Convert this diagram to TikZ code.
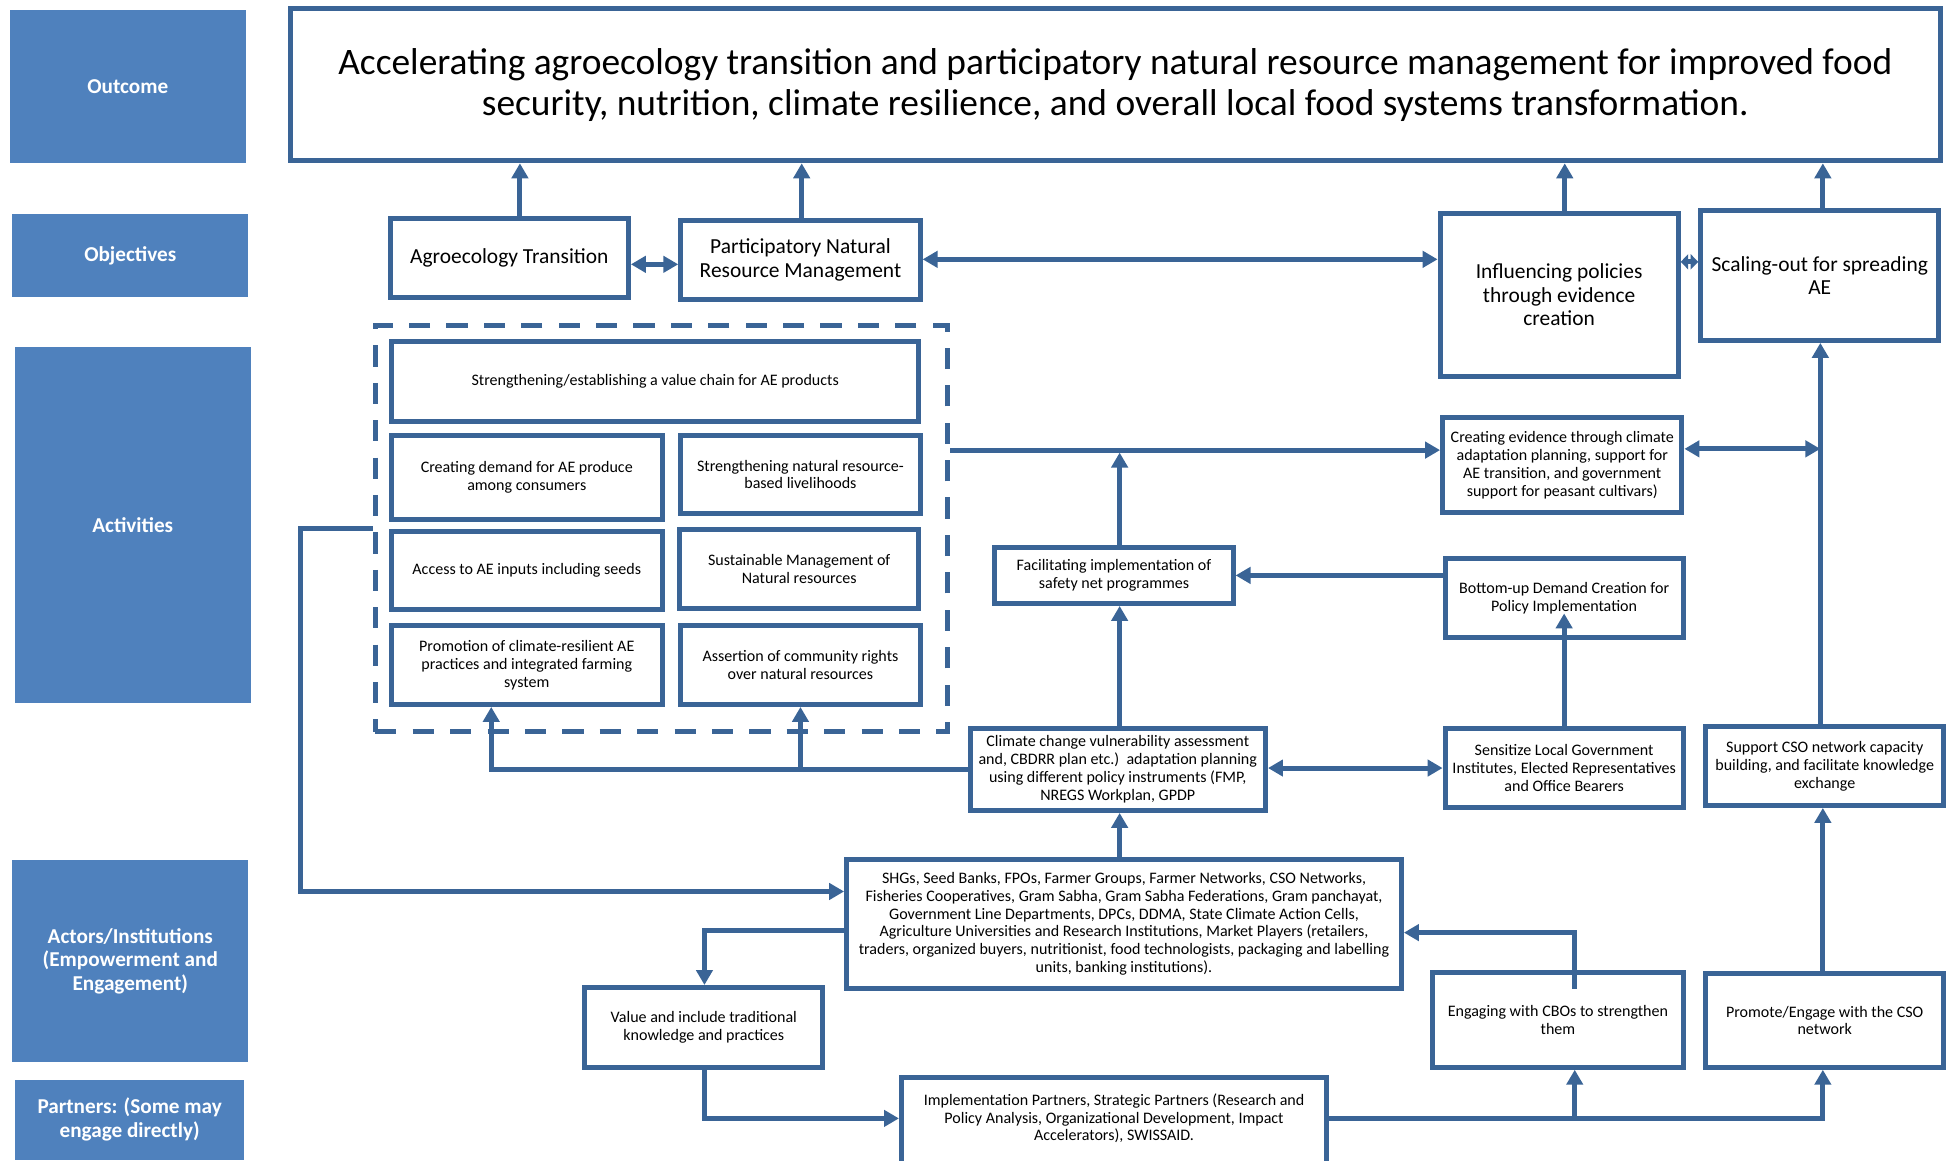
\documentclass[tikz,border=0pt]{standalone}
\usepackage{fontspec}
\setmainfont{Carlito}
\usetikzlibrary{arrows.meta}
\definecolor{bc}{HTML}{3A6496}
\definecolor{lbl}{HTML}{4F81BD}
\begin{document}
\begin{tikzpicture}[x=1pt,y=-1pt,
 spanxy/.style n args={4}{at={({(#1+#3)/2},{(#2+#4)/2})}, anchor=center, minimum width={#3pt-#1pt}, minimum height={#4pt-#2pt}},
 box/.style={draw=bc, line width=4pt, fill=white, align=center, inner sep=0pt, font=\fontsize{12.85}{14.3}\selectfont},
 midbox/.style={box, font=\fontsize{17.2}{19}\selectfont},
 lblbox/.style={fill=lbl, inner sep=0pt, align=center, text=white, font=\fontsize{17}{19}\selectfont\bfseries},
 conn/.style={draw=bc, line width=4pt, -{Triangle[length=12pt,width=13pt]}},
 dconn/.style={draw=bc, line width=4pt, {Triangle[length=12pt,width=13pt]}-{Triangle[length=12pt,width=13pt]}},
 sdconn/.style={draw=bc, line width=4pt, {Triangle[length=6pt,width=12pt]}-{Triangle[length=6pt,width=12pt]}},
]
\useasboundingbox (0,0) rectangle (1568,931);
% left labels
\node[lblbox, spanxy={8}{8}{197}{131}] (lo) {Outcome};
\node[lblbox, spanxy={10}{172}{199}{238}] (lobj) {Objectives};
\node[lblbox, spanxy={12}{278}{201}{564}] (lact) {Activities};
\node[lblbox, spanxy={10}{690}{199}{852}] (lactr) {Actors/Institutions\\(Empowerment and\\Engagement)};
\node[lblbox, spanxy={12}{866}{196}{930}] (lpart) {Partners: (Some may\\engage directly)};
% outcome
\node[box, spanxy={233}{7}{1556}{129}, font=\fontsize{30}{33}\selectfont] (outcome) {Accelerating agroecology transition and participatory natural resource management for improved food\\security, nutrition, climate resilience, and overall local food systems transformation.};
% objectives
\node[midbox, spanxy={313}{175}{504}{239}] (agro) {Agroecology Transition};
\node[midbox, spanxy={546}{177}{738}{240}] (pnrm) {Participatory Natural\\Resource Management};
\node[midbox, spanxy={1155}{171}{1346}{302}] (infl) {Influencing policies\\through evidence\\creation};
\node[midbox, spanxy={1364}{169}{1555}{273}] (scal) {Scaling-out for spreading\\AE};
% activities group
\node[draw=bc, line width=4pt, dash pattern=on 17pt off 13pt, inner sep=0pt, spanxy={301}{261}{760}{587}] (dash) {};
\node[box, spanxy={314}{274}{737}{338}] (vc) {Strengthening/establishing a value chain for AE products};
\node[box, spanxy={314}{349}{531}{417}] (dem) {Creating demand for AE produce\\among consumers};
\node[box, spanxy={546}{349}{738}{412}] (nrl) {Strengthening natural resource-\\based livelihoods};
\node[box, spanxy={314}{426}{531}{489}] (acc) {Access to AE inputs including seeds};
\node[box, spanxy={545}{425}{737}{488}] (sus) {Sustainable Management of\\Natural resources};
\node[box, spanxy={314}{502}{531}{565}] (pro) {Promotion of climate-resilient AE\\practices and integrated farming\\system};
\node[box, spanxy={546}{502}{738}{565}] (ass) {Assertion of community rights\\over natural resources};
% other activities
\node[box, spanxy={1157}{335}{1349}{411}] (crev) {Creating evidence through climate\\adaptation planning, support for\\AE transition, and government\\support for peasant cultivars)};
\node[box, spanxy={798}{439}{989}{484}] (facil) {Facilitating implementation of\\safety net programmes};
\node[box, spanxy={1159}{448}{1350}{511}] (bott) {Bottom-up Demand Creation for\\Policy Implementation};
\node[box, spanxy={778}{584}{1015}{650}] (clim) {Climate change vulnerability assessment\\and, CBDRR plan etc.)~~adaptation planning\\using different policy instruments (FMP,\\NREGS Workplan, GPDP};
\node[box, spanxy={1159}{584}{1350}{648}] (sens) {Sensitize Local Government\\Institutes, Elected Representatives\\and Office Bearers};
\node[box, spanxy={1368}{583}{1559}{646}] (supp) {Support CSO network capacity\\building, and facilitate knowledge\\exchange};
% actors
\node[box, spanxy={679}{689}{1124}{793}] (shg) {SHGs, Seed Banks, FPOs, Farmer Groups, Farmer Networks, CSO Networks,\\Fisheries Cooperatives, Gram Sabha, Gram Sabha Federations, Gram panchayat,\\Government Line Departments, DPCs, DDMA, State Climate Action Cells,\\Agriculture Universities and Research Institutions, Market Players (retailers,\\traders, organized buyers, nutritionist, food technologists, packaging and labelling\\units, banking institutions).};
\node[box, spanxy={469}{792}{660}{856}] (val) {Value and include traditional\\knowledge and practices};
\node[box, spanxy={1149}{780}{1350}{856}] (eng) {Engaging with CBOs to strengthen\\them};
\node[box, spanxy={1368}{781}{1559}{856}] (prom) {Promote/Engage with the CSO\\network};
\node[box, spanxy={723}{864}{1064}{950}] (impl) {};
\node[align=center, inner sep=0pt, font=\fontsize{12.85}{14.3}\selectfont] (implt) at (893.5,897) {Implementation Partners, Strategic Partners (Research and\\Policy Analysis, Organizational Development, Impact\\Accelerators), SWISSAID.};
% helper coordinates
\coordinate (cA) at (417,0);
\coordinate (cP) at (643,0);
\coordinate (cI) at (1255,0);
\coordinate (cS) at (1462,0);
\coordinate (cM) at (898,0);
\coordinate (cL) at (241,0);
\coordinate (cPr) at (394,0);
\coordinate (cAs) at (642,0);
\coordinate (cR) at (1460,0);
\coordinate (cE) at (1263,0);
\coordinate (cV) at (565,0);
\coordinate (r208) at (0,208);
\coordinate (r210) at (0,210);
\coordinate (r212) at (0,212);
\coordinate (r360) at (0,360);
\coordinate (r361) at (0,361);
\coordinate (r363) at (0,363);
\coordinate (r424) at (0,424);
\coordinate (r492) at (0,492);
\coordinate (r616) at (0,616);
\coordinate (r617) at (0,617);
\coordinate (r715) at (0,715);
\coordinate (r746) at (0,746);
\coordinate (r748) at (0,748);
\coordinate (r793) at (0,793);
\coordinate (r897) at (0,897);
% connectors
\draw[conn] (agro.north -| cA) -- (outcome.south -| cA);
\draw[conn] (pnrm.north -| cP) -- (outcome.south -| cP);
\draw[conn] (infl.north -| cI) -- (outcome.south -| cI);
\draw[conn] (scal.north -| cS) -- (outcome.south -| cS);
\draw[dconn] (agro.east |- r212) -- (pnrm.west |- r212);
\draw[dconn] (pnrm.east |- r208) -- (infl.west |- r208);
\draw[sdconn] (infl.east |- r210) -- (scal.west |- r210);
\draw[conn] (dash.west |- r424) -| (cL |- r715) -- (shg.west |- r715);
\draw[conn] (clim.west |- r617) -| (pro.south -| cPr);
\draw[conn] (cAs |- r617) -- (ass.south -| cAs);
\draw[conn] (clim.north -| cM) -- (facil.south -| cM);
\draw[conn] (facil.north -| cM) -- (cM |- r363);
\draw[conn] (dash.east |- r361) -- (crev.west |- r361);
\draw[dconn] (crev.east |- r360) -- (cR |- r360);
\draw[conn] (supp.north -| cR) -- (scal.south -| cR);
\draw[conn] (bott.west |- facil.east) -- (facil.east);
\draw[conn] (sens.north) -- (sens.north |- r492);
\draw[dconn] (clim.east |- r616) -- (sens.west |- r616);
\draw[conn] (shg.north -| cM) -- (clim.south -| cM);
\draw[conn] (shg.west |- r746) -| (val.north -| cV);
\draw[conn] (val.south -| cV) |- (impl.west |- r897);
\draw[conn] (impl.east |- r897) -| (prom.south -| cS);
\draw[conn] (cE |- r897) -- (eng.south -| cE);
\draw[conn] (cE |- r793) |- (shg.east |- r748);
\draw[conn] (prom.north -| cS) -- (supp.south -| cS);
\end{tikzpicture}
\end{document}
